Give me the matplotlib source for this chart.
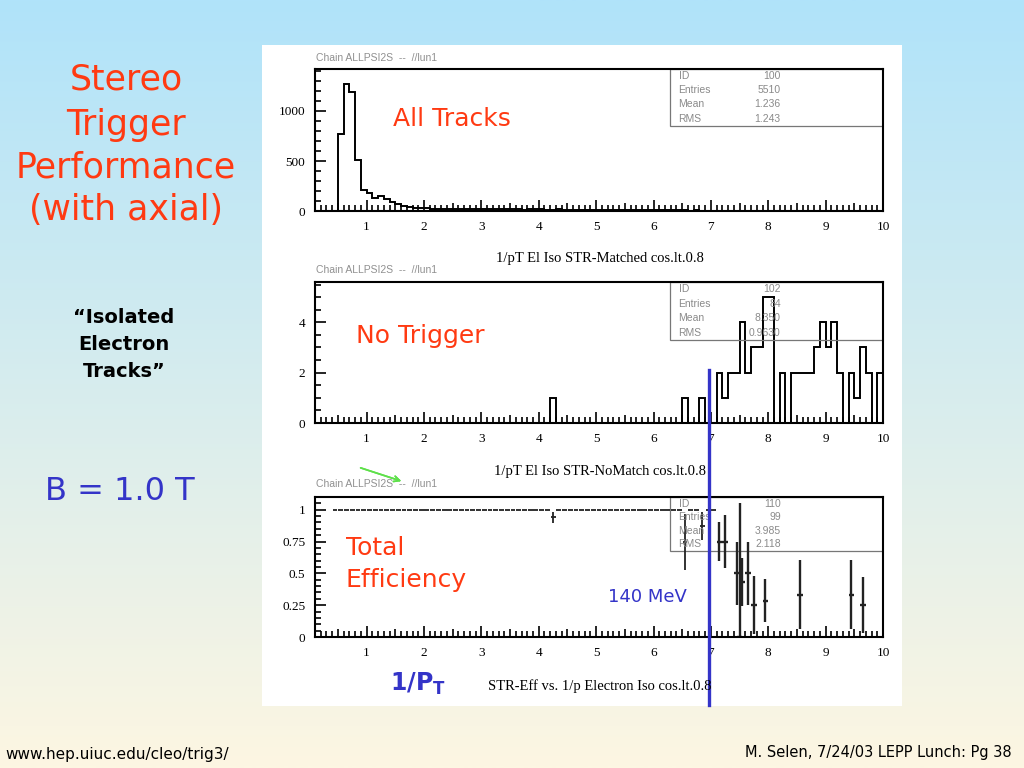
import numpy as np
import matplotlib
matplotlib.use('Agg')
import matplotlib.pyplot as plt
from matplotlib.patches import Rectangle
from matplotlib.lines import Line2D
from matplotlib.ticker import MultipleLocator, FixedLocator

# histogram binning: 0.1 wide bins from 0 to 10
edges = np.round(np.arange(0, 10.05, 0.1), 2)

# All Tracks (ID 100)
all_tracks = [
    0, 0, 0, 0, 0, 770, 1265, 1185, 510, 205,
    180, 130, 150, 125, 95, 70, 50, 40, 32, 30,
    26, 24, 25, 22, 20, 22, 18, 21, 19, 20,
    19, 17, 18, 20, 16, 18, 17, 15, 18, 16,
    16, 15, 14, 16, 13, 15, 14, 12, 13, 14,
    12, 11, 13, 10, 11, 9, 10, 11, 9, 8,
    8, 7, 8, 6, 7, 6, 5, 6, 5, 4,
    4, 3, 4, 3, 2, 2, 0, 0, 0, 0,
    0, 0, 0, 0, 0, 0, 0, 0, 0, 0,
    0, 0, 0, 0, 0, 0, 0, 0, 0, 0,
]

# No Trigger (ID 102)
no_trigger = [
    0, 0, 0, 0, 0, 0, 0, 0, 0, 0,
    0, 0, 0, 0, 0, 0, 0, 0, 0, 0,
    0, 0, 0, 0, 0, 0, 0, 0, 0, 0,
    0, 0, 0, 0, 0, 0, 0, 0, 0, 0,
    0, 0, 1, 0, 0, 0, 0, 0, 0, 0,
    0, 0, 0, 0, 0, 0, 0, 0, 0, 0,
    0, 0, 0, 0, 0, 1, 0, 0, 1, 0,
    0, 2, 1, 2, 2, 4, 2, 3, 3, 5,
    5, 0, 2, 0, 2, 2, 2, 2, 3, 4,
    3, 4, 2, 0, 2, 1, 3, 2, 0, 2,
]

# Total efficiency (ID 110): bins 0.4 .. 7.0
eff_lo_x = np.round(np.arange(0.45, 7.06, 0.1), 2)
eff_lo_y = [
    1, 1, 1, 1, 1, 1, 1, 1, 1, 1,
    1, 1, 1, 1, 1, 1, 1, 1, 1, 1,
    1, 1, 1, 1, 1, 1, 1, 1, 1, 1,
    1, 1, 1, 1, 1, 1, 1, 1, 0.94, 1,
    1, 1, 1, 1, 1, 1, 1, 1, 1, 1,
    1, 1, 1, 1, 1, 1, 1, 1, 1, 1,
    1, 0.75, 1, 1, 0.875, 1, 1,
]
eff_lo_err = [
    0, 0, 0, 0, 0, 0, 0, 0, 0, 0,
    0, 0, 0, 0, 0, 0, 0, 0, 0, 0,
    0, 0, 0, 0, 0, 0, 0, 0, 0, 0,
    0, 0, 0, 0, 0, 0, 0, 0, 0.045, 0,
    0, 0, 0, 0, 0, 0, 0, 0, 0, 0,
    0, 0, 0, 0, 0, 0, 0, 0, 0, 0,
    0, 0.22, 0, 0, 0.11, 0, 0,
]
# sparse bins above 7.1
eff_hi_x = [7.15, 7.25, 7.45, 7.50, 7.55, 7.65, 7.75, 7.95, 8.55, 9.45, 9.65]
eff_hi_y = [0.75, 0.75, 0.5, 0.0, 0.43, 0.5, 0.25, 0.286, 0.333, 0.333, 0.25]
eff_hi_err = [0.15, 0.21, 0.25, 1.05, 0.19, 0.25, 0.23, 0.17, 0.27, 0.27, 0.22]

stats = {
    'all': [('ID', '100'), ('Entries', '5510'), ('Mean', '1.236'), ('RMS', '1.243')],
    'notrig': [('ID', '102'), ('Entries', '84'), ('Mean', '8.350'), ('RMS', '0.9630')],
    'eff': [('ID', '110'), ('Entries', '99'), ('Mean', '3.985'), ('RMS', '2.118')],
}

W, H = 1024, 768
RED = '#ff3a12'
BLUE = '#3434c8'
SERIF = 'Liberation Serif'


def fpos(x, y):
    # pixel position on the slide -> figure fraction
    return x / W, 1 - y / H


def ax_rect(top, bottom, left=315, right=883):
    return [left / W, 1 - bottom / H, (right - left) / W, (bottom - top) / H]


fig = plt.figure(figsize=(W / 100, H / 100), dpi=100)

# slide background gradient
bg = fig.add_axes([0, 0, 1, 1], zorder=-10)
top_c = np.array([176, 227, 250]) / 255
bot_c = np.array([253, 246, 226]) / 255
t = np.linspace(0, 1, 256)[:, None]
grad = (top_c[None, :] * (1 - t) + bot_c[None, :] * t)[:, None, :]
bg.imshow(grad, aspect='auto', extent=[0, 1, 0, 1])
bg.add_patch(Rectangle((262 / W, 1 - 706 / H), 640 / W, 661 / H,
                       facecolor='white', edgecolor='none'))
bg.set_xlim(0, 1)
bg.set_ylim(0, 1)
bg.axis('off')

x_major = [0.5 * k for k in range(1, 21)]


def paw_axes(rect, ylim, ymajor, yminor, yfmt):
    ax = fig.add_axes(rect)
    ax.set_xlim(0.1, 10)
    ax.set_ylim(*ylim)
    # integer ticks long, half-unit ticks medium, 0.1 ticks short
    ax.xaxis.set_major_locator(FixedLocator(x_major))
    ax.xaxis.set_major_formatter(lambda v, p: f'{v:g}' if abs(v - round(v)) < 1e-6 else '')
    ax.xaxis.set_minor_locator(MultipleLocator(0.1))
    ax.yaxis.set_major_locator(MultipleLocator(ymajor))
    ax.yaxis.set_minor_locator(MultipleLocator(yminor))
    ax.yaxis.set_major_formatter(yfmt)
    ax.tick_params(which='both', direction='in', top=False, right=False,
                   width=1.2, labelsize=9.5, pad=7)
    ax.tick_params(which='major', length=8)
    ax.tick_params(which='minor', length=4)
    for v, tk in zip(x_major, ax.xaxis.get_major_ticks()):
        if abs(v - round(v)) > 1e-6:
            tk.tick1line.set_markersize(6)
    for lab in ax.get_xticklabels() + ax.get_yticklabels():
        lab.set_fontfamily(SERIF)
    for s in ax.spines.values():
        s.set_linewidth(1.5)
    ax.set_facecolor('none')
    return ax


def stats_box(ax, rows, ybot, x0=0.625):
    ax.add_patch(Rectangle((x0, ybot), 1 - x0, 1 - ybot, transform=ax.transAxes,
                           facecolor='none', edgecolor='#777777', lw=0.9))
    step = (1 - ybot) / 4
    for i, (k, v) in enumerate(rows):
        y = 1 - step * (i + 0.5)
        ax.text(0.64, y, k, transform=ax.transAxes, fontsize=7.5, color='#8a8a8a',
                va='center', ha='left', family='Liberation Sans')
        ax.text(0.82, y, v, transform=ax.transAxes, fontsize=7.5, color='#8a8a8a',
                va='center', ha='right', family='Liberation Sans')


fmt_int = lambda v, p: f'{v:g}'

# --- plot 1: all tracks
ax1 = paw_axes(ax_rect(69, 211), (0, 1420), 500, 100, fmt_int)
ax1.stairs(all_tracks, edges, color='black', lw=1.4)
stats_box(ax1, stats['all'], 0.6)

# --- plot 2: no trigger
ax2 = paw_axes(ax_rect(282, 423), (0, 5.6), 2, 0.5, fmt_int)
ax2.stairs(no_trigger, edges, color='black', lw=1.4)
stats_box(ax2, stats['notrig'], 0.59)

# --- plot 3: efficiency
ax3 = paw_axes(ax_rect(497, 637), (0, 1.1), 0.25, 0.05, fmt_int)
ax3.errorbar(eff_lo_x, eff_lo_y, yerr=eff_lo_err, xerr=0.042, fmt='none',
             ecolor='#222222', elinewidth=1.3, capsize=0)
ax3.errorbar(eff_hi_x, eff_hi_y, yerr=eff_hi_err, xerr=0.05, fmt='none',
             ecolor='#222222', elinewidth=1.7, capsize=0)
stats_box(ax3, stats['eff'], 0.614)

# PAW header / titles
for y in (58, 270, 484):
    fig.text(*fpos(316, y), 'Chain ALLPSI2S  --  //lun1', fontsize=7.5, color='#909090',
             va='center', ha='left', family='Liberation Sans')
fig.text(*fpos(600, 259), '1/pT El Iso STR-Matched cos.lt.0.8', fontsize=10.5,
         family=SERIF, ha='center', va='center')
fig.text(*fpos(600, 472), '1/pT El Iso STR-NoMatch cos.lt.0.8', fontsize=10.5,
         family=SERIF, ha='center', va='center')
fig.text(*fpos(600, 686), 'STR-Eff vs. 1/p Electron Iso cos.lt.0.8', fontsize=10.5,
         family=SERIF, ha='center', va='center')

# annotations on the plots
fig.text(*fpos(393, 119), 'All Tracks', fontsize=18, color=RED, va='center', ha='left')
fig.text(*fpos(356, 336), 'No Trigger', fontsize=18, color=RED, va='center', ha='left')
fig.text(*fpos(346, 548), 'Total', fontsize=18, color=RED, va='center', ha='left')
fig.text(*fpos(346, 580), 'Efficiency', fontsize=18, color=RED, va='center', ha='left')
fig.text(*fpos(608, 597), '140 MeV', fontsize=13, color=BLUE, va='center', ha='left')
fig.text(*fpos(390, 684), r'1/P$_\mathbf{T}$', fontsize=17, color=BLUE, weight='bold',
         va='center', ha='left')

# 140 MeV cut line
x_cut = 6.97
xf = fig.transFigure.inverted().transform(ax3.transData.transform((x_cut, 0)))[0]
fig.add_artist(Line2D([xf, xf], [1 - 705 / H, 1 - 370 / H], color=BLUE, lw=2.4,
                      transform=fig.transFigure))

# green arrow
fig.add_artist(plt.annotate('', xy=fpos(404, 482), xytext=fpos(358, 467),
                            xycoords='figure fraction', textcoords='figure fraction',
                            arrowprops=dict(arrowstyle='->', color='#5ee04a', lw=1.2)))

# left column texts
for txt, y in [('Stereo', 80), ('Trigger', 125), ('Performance', 167), ('(with axial)', 210)]:
    fig.text(*fpos(126, y), txt, fontsize=25, color=RED, ha='center', va='center')
for txt, y in [('\u201cIsolated', 317), ('Electron', 344), ('Tracks\u201d', 371)]:
    fig.text(*fpos(124, y), txt, fontsize=14, weight='bold', color='black',
             ha='center', va='center')
fig.text(*fpos(120, 491), 'B = 1.0 T', fontsize=23, color=BLUE, ha='center', va='center')

# footer
fig.text(*fpos(5, 754), 'www.hep.uiuc.edu/cleo/trig3/', fontsize=11, ha='left',
         va='center')
fig.text(*fpos(1012, 752), 'M. Selen, 7/24/03 LEPP Lunch: Pg 38', fontsize=10.5,
         ha='right', va='center')

fig.savefig('out.png', dpi=100)
